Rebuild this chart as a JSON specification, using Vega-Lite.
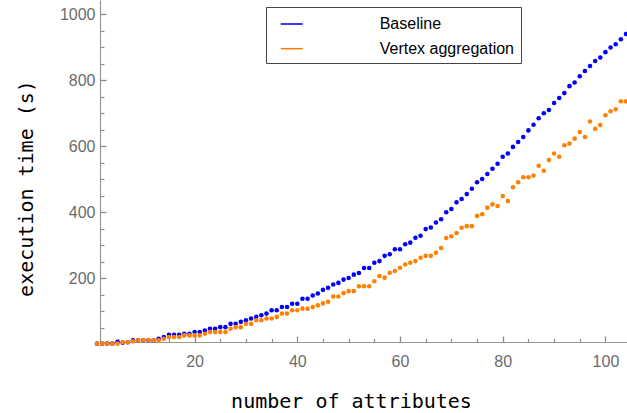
{
  "$schema": "https://vega.github.io/schema/vega-lite/v6.json",
  "width": 527,
  "height": 342,
  "autosize": {"type": "none"},
  "padding": {"left": 100, "top": 0, "right": 0, "bottom": 71},
  "background": "white",
  "config": {"view": {"stroke": null}},
  "data": {"values": [
    {"s":"Baseline","x":1,"y":2},{"s":"Baseline","x":2,"y":2},{"s":"Baseline","x":3,"y":2},{"s":"Baseline","x":4,"y":2},{"s":"Baseline","x":5,"y":8},{"s":"Baseline","x":6,"y":5},{"s":"Baseline","x":7,"y":6},{"s":"Baseline","x":8,"y":12},{"s":"Baseline","x":9,"y":12},{"s":"Baseline","x":10,"y":12},
    {"s":"Baseline","x":11,"y":12},{"s":"Baseline","x":12,"y":12},{"s":"Baseline","x":13,"y":17},{"s":"Baseline","x":14,"y":22},{"s":"Baseline","x":15,"y":29},{"s":"Baseline","x":16,"y":29},{"s":"Baseline","x":17,"y":29},{"s":"Baseline","x":18,"y":32},{"s":"Baseline","x":19,"y":32},{"s":"Baseline","x":20,"y":37},
    {"s":"Baseline","x":21,"y":37},{"s":"Baseline","x":22,"y":42},{"s":"Baseline","x":23,"y":47},{"s":"Baseline","x":24,"y":47},{"s":"Baseline","x":25,"y":52},{"s":"Baseline","x":26,"y":52},{"s":"Baseline","x":27,"y":62},{"s":"Baseline","x":28,"y":62},{"s":"Baseline","x":29,"y":68},{"s":"Baseline","x":30,"y":73},
    {"s":"Baseline","x":31,"y":78},{"s":"Baseline","x":32,"y":83},{"s":"Baseline","x":33,"y":88},{"s":"Baseline","x":34,"y":93},{"s":"Baseline","x":35,"y":103},{"s":"Baseline","x":36,"y":103},{"s":"Baseline","x":37,"y":113},{"s":"Baseline","x":38,"y":113},{"s":"Baseline","x":39,"y":123},{"s":"Baseline","x":40,"y":123},
    {"s":"Baseline","x":41,"y":138},{"s":"Baseline","x":42,"y":138},{"s":"Baseline","x":43,"y":148},{"s":"Baseline","x":44,"y":154},{"s":"Baseline","x":45,"y":165},{"s":"Baseline","x":46,"y":171},{"s":"Baseline","x":47,"y":181},{"s":"Baseline","x":48,"y":186},{"s":"Baseline","x":49,"y":196},{"s":"Baseline","x":50,"y":201},
    {"s":"Baseline","x":51,"y":211},{"s":"Baseline","x":52,"y":216},{"s":"Baseline","x":53,"y":231},{"s":"Baseline","x":54,"y":231},{"s":"Baseline","x":55,"y":247},{"s":"Baseline","x":56,"y":252},{"s":"Baseline","x":57,"y":268},{"s":"Baseline","x":58,"y":273},{"s":"Baseline","x":59,"y":288},{"s":"Baseline","x":60,"y":288},
    {"s":"Baseline","x":61,"y":303},{"s":"Baseline","x":62,"y":308},{"s":"Baseline","x":63,"y":323},{"s":"Baseline","x":64,"y":329},{"s":"Baseline","x":65,"y":349},{"s":"Baseline","x":66,"y":354},{"s":"Baseline","x":67,"y":369},{"s":"Baseline","x":68,"y":379},{"s":"Baseline","x":69,"y":400},{"s":"Baseline","x":70,"y":410},
    {"s":"Baseline","x":71,"y":430},{"s":"Baseline","x":72,"y":440},{"s":"Baseline","x":73,"y":455},{"s":"Baseline","x":74,"y":471},{"s":"Baseline","x":75,"y":491},{"s":"Baseline","x":76,"y":501},{"s":"Baseline","x":77,"y":516},{"s":"Baseline","x":78,"y":532},{"s":"Baseline","x":79,"y":547},{"s":"Baseline","x":80,"y":568},
    {"s":"Baseline","x":81,"y":578},{"s":"Baseline","x":82,"y":598},{"s":"Baseline","x":83,"y":613},{"s":"Baseline","x":84,"y":628},{"s":"Baseline","x":85,"y":648},{"s":"Baseline","x":86,"y":665},{"s":"Baseline","x":87,"y":685},{"s":"Baseline","x":88,"y":700},{"s":"Baseline","x":89,"y":710},{"s":"Baseline","x":90,"y":731},
    {"s":"Baseline","x":91,"y":746},{"s":"Baseline","x":92,"y":761},{"s":"Baseline","x":93,"y":782},{"s":"Baseline","x":94,"y":793},{"s":"Baseline","x":95,"y":812},{"s":"Baseline","x":96,"y":828},{"s":"Baseline","x":97,"y":843},{"s":"Baseline","x":98,"y":858},{"s":"Baseline","x":99,"y":869},{"s":"Baseline","x":100,"y":885},
    {"s":"Baseline","x":101,"y":899},{"s":"Baseline","x":102,"y":909},{"s":"Baseline","x":103,"y":924},{"s":"Baseline","x":104,"y":940},
    {"s":"Vertex aggregation","x":1,"y":2},{"s":"Vertex aggregation","x":2,"y":2},{"s":"Vertex aggregation","x":3,"y":2},{"s":"Vertex aggregation","x":4,"y":2},{"s":"Vertex aggregation","x":5,"y":2},{"s":"Vertex aggregation","x":6,"y":6},{"s":"Vertex aggregation","x":7,"y":6},{"s":"Vertex aggregation","x":8,"y":9},{"s":"Vertex aggregation","x":9,"y":12},{"s":"Vertex aggregation","x":10,"y":12},
    {"s":"Vertex aggregation","x":11,"y":12},{"s":"Vertex aggregation","x":12,"y":12},{"s":"Vertex aggregation","x":13,"y":12},{"s":"Vertex aggregation","x":14,"y":17},{"s":"Vertex aggregation","x":15,"y":22},{"s":"Vertex aggregation","x":16,"y":22},{"s":"Vertex aggregation","x":17,"y":22},{"s":"Vertex aggregation","x":18,"y":27},{"s":"Vertex aggregation","x":19,"y":27},{"s":"Vertex aggregation","x":20,"y":27},
    {"s":"Vertex aggregation","x":21,"y":27},{"s":"Vertex aggregation","x":22,"y":32},{"s":"Vertex aggregation","x":23,"y":37},{"s":"Vertex aggregation","x":24,"y":37},{"s":"Vertex aggregation","x":25,"y":37},{"s":"Vertex aggregation","x":26,"y":37},{"s":"Vertex aggregation","x":27,"y":47},{"s":"Vertex aggregation","x":28,"y":52},{"s":"Vertex aggregation","x":29,"y":52},{"s":"Vertex aggregation","x":30,"y":62},
    {"s":"Vertex aggregation","x":31,"y":62},{"s":"Vertex aggregation","x":32,"y":73},{"s":"Vertex aggregation","x":33,"y":73},{"s":"Vertex aggregation","x":34,"y":78},{"s":"Vertex aggregation","x":35,"y":78},{"s":"Vertex aggregation","x":36,"y":83},{"s":"Vertex aggregation","x":37,"y":93},{"s":"Vertex aggregation","x":38,"y":93},{"s":"Vertex aggregation","x":39,"y":103},{"s":"Vertex aggregation","x":40,"y":103},
    {"s":"Vertex aggregation","x":41,"y":108},{"s":"Vertex aggregation","x":42,"y":108},{"s":"Vertex aggregation","x":43,"y":113},{"s":"Vertex aggregation","x":44,"y":118},{"s":"Vertex aggregation","x":45,"y":124},{"s":"Vertex aggregation","x":46,"y":129},{"s":"Vertex aggregation","x":47,"y":145},{"s":"Vertex aggregation","x":48,"y":145},{"s":"Vertex aggregation","x":49,"y":155},{"s":"Vertex aggregation","x":50,"y":161},
    {"s":"Vertex aggregation","x":51,"y":161},{"s":"Vertex aggregation","x":52,"y":176},{"s":"Vertex aggregation","x":53,"y":176},{"s":"Vertex aggregation","x":54,"y":176},{"s":"Vertex aggregation","x":55,"y":191},{"s":"Vertex aggregation","x":56,"y":207},{"s":"Vertex aggregation","x":57,"y":202},{"s":"Vertex aggregation","x":58,"y":217},{"s":"Vertex aggregation","x":59,"y":222},{"s":"Vertex aggregation","x":60,"y":232},
    {"s":"Vertex aggregation","x":61,"y":242},{"s":"Vertex aggregation","x":62,"y":247},{"s":"Vertex aggregation","x":63,"y":252},{"s":"Vertex aggregation","x":64,"y":262},{"s":"Vertex aggregation","x":65,"y":268},{"s":"Vertex aggregation","x":66,"y":268},{"s":"Vertex aggregation","x":67,"y":277},{"s":"Vertex aggregation","x":68,"y":292},{"s":"Vertex aggregation","x":69,"y":322},{"s":"Vertex aggregation","x":70,"y":327},
    {"s":"Vertex aggregation","x":71,"y":337},{"s":"Vertex aggregation","x":72,"y":353},{"s":"Vertex aggregation","x":73,"y":358},{"s":"Vertex aggregation","x":74,"y":358},{"s":"Vertex aggregation","x":75,"y":389},{"s":"Vertex aggregation","x":76,"y":394},{"s":"Vertex aggregation","x":77,"y":414},{"s":"Vertex aggregation","x":78,"y":424},{"s":"Vertex aggregation","x":79,"y":419},{"s":"Vertex aggregation","x":80,"y":449},
    {"s":"Vertex aggregation","x":81,"y":434},{"s":"Vertex aggregation","x":82,"y":476},{"s":"Vertex aggregation","x":83,"y":491},{"s":"Vertex aggregation","x":84,"y":506},{"s":"Vertex aggregation","x":85,"y":506},{"s":"Vertex aggregation","x":86,"y":511},{"s":"Vertex aggregation","x":87,"y":541},{"s":"Vertex aggregation","x":88,"y":526},{"s":"Vertex aggregation","x":89,"y":558},{"s":"Vertex aggregation","x":90,"y":578},
    {"s":"Vertex aggregation","x":91,"y":568},{"s":"Vertex aggregation","x":92,"y":603},{"s":"Vertex aggregation","x":93,"y":608},{"s":"Vertex aggregation","x":94,"y":623},{"s":"Vertex aggregation","x":95,"y":643},{"s":"Vertex aggregation","x":96,"y":628},{"s":"Vertex aggregation","x":97,"y":675},{"s":"Vertex aggregation","x":98,"y":653},{"s":"Vertex aggregation","x":99,"y":664},{"s":"Vertex aggregation","x":100,"y":694},
    {"s":"Vertex aggregation","x":101,"y":706},{"s":"Vertex aggregation","x":102,"y":712},{"s":"Vertex aggregation","x":103,"y":736},{"s":"Vertex aggregation","x":104,"y":736}
  ]},
  "layer": [
    {
      "mark": {"type": "circle", "size": 21, "opacity": 1, "clip": false},
      "encoding": {
        "x": {
          "field": "x", "type": "quantitative",
          "scale": {"domain": [1.58, 104.2], "nice": false, "zero": false},
          "axis": {
            "orient": "bottom",
            "values": [20,40,60,80,100],
            "format": "d",
            "grid": false, "ticks": false,
            "domainColor": "#999999", "domainWidth": 1.2,
            "labelPadding": 11,
            "labelFont": "Liberation Sans", "labelFontSize": 16, "labelColor": "#6b6b6b",
            "labelFlush": false, "labelOverlap": false,
            "title": "number of attributes",
            "titleFont": "DejaVu Sans Mono", "titleFontSize": 20, "titleFontWeight": "normal", "titleColor": "black",
            "titleX": 251, "titleY": 65, "titleAlign": "center", "titleBaseline": "alphabetic"
          }
        },
        "y": {
          "field": "y", "type": "quantitative",
          "scale": {"domain": [7, 1043], "nice": false, "zero": false},
          "axis": {
            "orient": "left",
            "values": [200,400,600,800,1000],
            "format": "d",
            "grid": false, "ticks": false,
            "domainColor": "#999999", "domainWidth": 1.2,
            "labelPadding": 5,
            "labelFont": "Liberation Sans", "labelFontSize": 16, "labelColor": "#6b6b6b",
            "labelFlush": false, "labelOverlap": false,
            "title": "execution time (s)",
            "titleFont": "DejaVu Sans Mono", "titleFontSize": 20, "titleFontWeight": "normal", "titleColor": "black",
            "titleX": -68, "titleY": 188, "titleAlign": "center", "titleBaseline": "alphabetic", "titleAngle": 270
          }
        },
        "color": {
          "field": "s", "type": "nominal",
          "scale": {"domain": ["Baseline", "Vertex aggregation"], "range": ["#0000ff", "#ff8000"]},
          "legend": {
            "title": null,
            "orient": "none", "legendX": 166, "legendY": 7,
            "padding": 6, "symbolOffset": 8.7, "labelOffset": 77, "rowPadding": 5.7,
            "strokeColor": "#444444", "fillColor": "white",
            "symbolType": "M-1,-0.07H1V0.07H-1Z", "symbolSize": 484, "symbolStrokeWidth": 0,
            "labelFont": "Liberation Sans", "labelFontSize": 16, "labelColor": "black"
          }
        }
      }
    },
    {
      "mark": {"type": "circle", "size": 21, "opacity": 0},
      "encoding": {
        "x": {
          "field": "x", "type": "quantitative",
          "axis": {
            "orient": "bottom", "offset": -6,
            "values": [20,40,60,80,100],
            "grid": false, "domain": false, "labels": false, "title": null,
            "tickColor": "#8a8a8a", "tickWidth": 1.3, "tickSize": 6
          }
        },
        "y": {
          "field": "y", "type": "quantitative",
          "axis": {
            "orient": "right", "offset": -527,
            "values": [200,400,600,800,1000],
            "grid": false, "domain": false, "labels": false, "title": null,
            "tickColor": "#8a8a8a", "tickWidth": 1.3, "tickSize": 6
          }
        }
      }
    },
    {
      "mark": {"type": "circle", "size": 21, "opacity": 0},
      "encoding": {
        "x": {
          "field": "x", "type": "quantitative",
          "axis": {
            "orient": "top", "offset": -342,
            "values": [5,10,15,25,30,35,45,50,55,65,70,75,85,90,95],
            "grid": false, "domain": false, "labels": false, "title": null,
            "tickColor": "#8a8a8a", "tickWidth": 1.2, "tickSize": 3.5
          }
        },
        "y": {
          "field": "y", "type": "quantitative",
          "axis": {
            "orient": "right", "offset": -527,
            "values": [50,100,150,250,300,350,450,500,550,650,700,750,850,900,950],
            "grid": false, "domain": false, "labels": false, "title": null,
            "tickColor": "#8a8a8a", "tickWidth": 1.2, "tickSize": 4
          }
        }
      }
    }
  ],
  "resolve": {"axis": {"x": "independent", "y": "independent"}}
}
